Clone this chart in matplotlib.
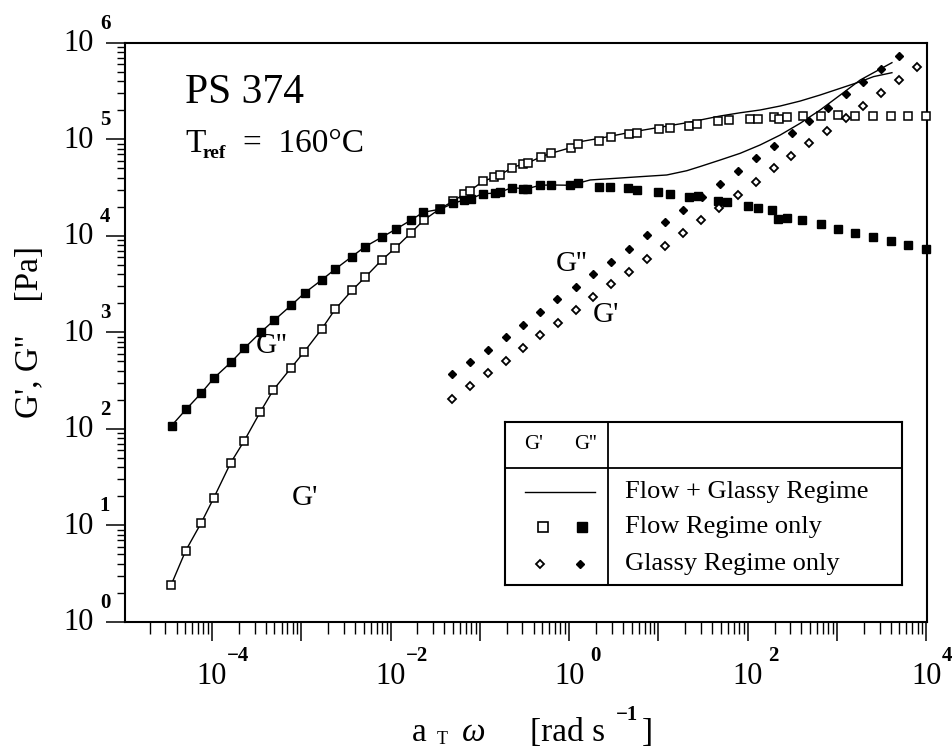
import numpy as np
import matplotlib.pyplot as plt
from matplotlib.ticker import LogLocator, NullFormatter

plt.rcParams['font.family'] = ['Liberation Serif', 'DejaVu Serif']

# Flow regime only (Maxwell modes), PS 374 master curve at 160 C
flow_w = [3.48e-5, 5.07e-5, 7.53e-5, 1.04e-4, 1.62e-4, 2.29e-4, 3.45e-4, 4.86e-4, 7.62e-4, 1.08e-3,
          1.69e-3, 2.39e-3, 3.73e-3, 5.18e-3, 7.96e-3, 1.12e-2, 1.70e-2, 2.34e-2, 3.59e-2, 5.06e-2,
          6.67e-2, 7.78e-2, 0.108, 0.145, 0.169, 0.228, 0.303, 0.350, 0.485, 0.628,
          1.04, 1.27, 2.18, 2.93, 4.66, 5.82, 10.2, 13.6, 22.3, 27.0,
          47.1, 61.0, 107, 129, 195, 227, 275, 415, 661, 1040,
          1600, 2530, 4020, 6330, 1.0e4]
flow_G1 = [2.40, 5.45, 10.5, 19.0, 44.5, 74.8, 148, 253, 424, 630,
           1080, 1730, 2750, 3720, 5620, 7430, 10800, 14500, 19200, 23000,
           27200, 29400, 36800, 40500, 42800, 50900, 55600, 57400, 66200, 71800,
           82200, 89100, 97100, 105000, 114000, 117000, 127000, 132000, 139000, 146000,
           156000, 159000, 163000, 163000, 170000, 163000, 172000, 175000, 175000, 179000,
           175000, 175000, 175000, 175000, 175000]

flow_w2 = [3.53e-5, 5.12e-5, 7.53e-5, 1.05e-4, 1.63e-4, 2.30e-4, 3.54e-4, 4.95e-4, 7.67e-4, 1.10e-3,
           1.69e-3, 2.39e-3, 3.67e-3, 5.18e-3, 7.96e-3, 1.14e-2, 1.70e-2, 2.33e-2, 3.59e-2, 5.06e-2,
           6.71e-2, 7.92e-2, 0.108, 0.146, 0.166, 0.228, 0.308, 0.341, 0.473, 0.628,
           1.03, 1.25, 2.17, 2.88, 4.61, 5.82, 10.0, 13.6, 22.3, 27.7,
           47.1, 58.5, 102, 129, 187, 221, 275, 408, 655, 1020,
           1600, 2530, 4020, 6330, 1.0e4]
flow_G2 = [108, 159, 233, 336, 489, 684, 1010, 1330, 1900, 2580,
           3490, 4510, 6080, 7730, 9680, 11700, 14600, 17600, 18900, 21800,
           23600, 24300, 27400, 27700, 28300, 31600, 30900, 30900, 33500, 33700,
           33500, 35100, 31900, 31900, 31200, 29900, 28700, 27200, 25100, 25700,
           23200, 22600, 20400, 19600, 18600, 15000, 15200, 14500, 13200, 11900,
           10800, 9790, 8920, 8110, 7370]

# Glassy regime only
glass_w1 = [4.92e-2, 7.78e-2, 0.123, 0.195, 0.305, 0.473, 0.746, 1.19, 1.87, 2.96,
            4.70, 7.43, 12.0, 19.1, 29.7, 48.3, 77.6, 124, 198, 307,
            492, 783, 1260, 1980, 3130, 4980, 7870]
glass_G1 = [204, 280, 376, 505, 693, 931, 1260, 1710, 2310, 3150,
            4230, 5720, 7850, 10700, 14600, 19600, 26600, 36500, 50200, 67300,
            91200, 123000, 166000, 224000, 305000, 413000, 560000]

glass_w2 = [4.92e-2, 7.78e-2, 0.123, 0.197, 0.308, 0.473, 0.740, 1.19, 1.87, 2.96,
            4.66, 7.44, 11.9, 19.1, 30.5, 49.2, 77.6, 124, 198, 313,
            492, 792, 1260, 1980, 3130, 4980]
glass_G2 = [367, 489, 656, 889, 1200, 1630, 2220, 2970, 4030, 5410,
            7370, 10200, 13800, 18700, 25300, 34500, 47100, 63800, 85500, 116000,
            156000, 213000, 294000, 397000, 533000, 733000]

# Flow + glassy: coincides with flow curve below ~1 rad/s, then these points
both_w1 = [1.33, 2.22, 5.21, 10.5, 20.8, 29.4, 49.2, 82.4, 138, 231, 387, 649, 1090, 1820, 2570, 4130]
both_G1 = [94800, 103000, 120000, 134000, 149000, 159000, 175000, 189000, 202000, 222000,
           250000, 289000, 339000, 397000, 448000, 492000]
both_w2 = [1.72, 3.42, 6.24, 12.4, 20.8, 29.4, 49.2, 82.4, 138, 231, 387, 649, 1090, 1820, 2570, 4130]
both_G2 = [38000, 39600, 41100, 42800, 47400, 52400, 61200, 71800, 87700, 111000,
           147000, 202000, 289000, 413000, 492000, 625000]

line_w1 = np.concatenate([flow_w[:31], both_w1])
line_G1 = np.concatenate([flow_G1[:31], both_G1])
line_w2 = np.concatenate([flow_w2[:31], both_w2])
line_G2 = np.concatenate([flow_G2[:31], both_G2])

fig = plt.figure(figsize=(9.53, 7.49), dpi=100)
ax = fig.add_axes([0.1312, 0.170, 0.8415, 0.7726])
ax.set_xscale('log')
ax.set_yscale('log')
ax.set_xlim(1.06e-5, 1.02e4)
ax.set_ylim(1, 1e6)

ax.plot(line_w1, line_G1, color='k', lw=1.0, zorder=2)
ax.plot(line_w2, line_G2, color='k', lw=1.0, zorder=2)
ax.plot(flow_w, flow_G1, ls='none', marker='s', ms=5.5, mfc='white', mec='k', mew=1.1, zorder=3, clip_on=False)
ax.plot(flow_w2, flow_G2, ls='none', marker='s', ms=5.2, color='k', zorder=3, clip_on=False)
ax.plot(glass_w1, glass_G1, ls='none', marker='D', ms=3.8, mfc='white', mec='k', mew=1.3, zorder=3)
ax.plot(glass_w2, glass_G2, ls='none', marker='D', ms=3.8, color='k', zorder=3)

# axes frame and ticks
for s in ax.spines.values():
    s.set_linewidth(1.5)
ax.xaxis.set_major_locator(LogLocator(base=10, numticks=20))
ax.xaxis.set_minor_locator(LogLocator(base=10, subs=np.arange(2, 10), numticks=20))
ax.yaxis.set_major_locator(LogLocator(base=10, numticks=20))
ax.yaxis.set_minor_locator(LogLocator(base=10, subs=np.arange(2, 10), numticks=20))
ax.xaxis.set_major_formatter(NullFormatter())
ax.xaxis.set_minor_formatter(NullFormatter())
ax.yaxis.set_major_formatter(NullFormatter())
ax.yaxis.set_minor_formatter(NullFormatter())
ax.tick_params(which='major', direction='out', length=14, width=1.1)
ax.tick_params(axis='x', which='minor', direction='out', length=8.5, width=1.0)
ax.tick_params(axis='y', which='minor', direction='out', length=6, width=1.0)

for e in [-4, -2, 0, 2, 4]:
    ax.annotate('10', xy=(10.0 ** e, 0), xycoords=ax.get_xaxis_transform(), xytext=(0, -55),
                textcoords='offset pixels', ha='center', va='center', fontsize=22, annotation_clip=False)
    dx = 26 if e < 4 else 21
    ax.annotate(str(e).replace('-', '\u2212'), xy=(10.0 ** e, 0), xycoords=ax.get_xaxis_transform(),
                xytext=(dx, -34), textcoords='offset pixels', ha='center', va='center',
                fontsize=15, fontweight='bold', annotation_clip=False)
for e in range(0, 7):
    ax.annotate('10', xy=(0, 10.0 ** e), xycoords=ax.get_yaxis_transform(), xytext=(-46, -1),
                textcoords='offset pixels', ha='center', va='center', fontsize=22, annotation_clip=False)
    ax.annotate(str(e), xy=(0, 10.0 ** e), xycoords=ax.get_yaxis_transform(), xytext=(-20, 19),
                textcoords='offset pixels', ha='center', va='center', fontsize=15, fontweight='bold',
                annotation_clip=False)

# axis titles
fig.text(30 / 953, 1 - 332 / 749, "G', G''    [Pa]", rotation=90, ha='center', va='center', fontsize=24)
yb = (749 - 741) / 749
fig.text(412 / 953, yb, 'a', fontsize=24, va='baseline')
fig.text(437 / 953, (749 - 744) / 749, 'T', fontsize=13, va='baseline')
fig.text(462 / 953, yb, '\u03c9', fontsize=24, va='baseline', style='italic')
fig.text(530 / 953, yb, '[rad s', fontsize=24, va='baseline')
fig.text(616 / 953, (749 - 720) / 749, '\u22121', fontsize=15, va='baseline', fontweight='bold')
fig.text(642 / 953, yb, ']', fontsize=24, va='baseline')

# sample annotation
fig.text(185 / 953, (749 - 103) / 749, 'PS 374', fontsize=30, va='baseline')
fig.text(185 / 953, (749 - 152) / 749, 'T', fontsize=24, va='baseline')
fig.text(203 / 953, (749 - 158) / 749, 'ref', fontsize=14, va='baseline', fontweight='bold')
fig.text(243 / 953, (749 - 152) / 749, '=  160\u00b0C', fontsize=24, va='baseline')

# curve labels
fig.text(272 / 953, 1 - 346 / 749, "G''", fontsize=21, ha='center', va='center')
fig.text(305 / 953, 1 - 498 / 749, "G'", fontsize=21, ha='center', va='center')
fig.text(572 / 953, 1 - 264 / 749, "G''", fontsize=21, ha='center', va='center')
fig.text(606 / 953, 1 - 315 / 749, "G'", fontsize=21, ha='center', va='center')

# legend table
lg = fig.add_axes([505 / 953, 1 - 585 / 749, 397 / 953, 163 / 749])
lg.set_xlim(0, 1)
lg.set_ylim(0, 1)
lg.set_xticks([])
lg.set_yticks([])
for s in lg.spines.values():
    s.set_linewidth(1.5)
lg.axvline(0.2594, color='k', lw=1.3)
lg.axhline(0.718, color='k', lw=1.3)
lg.text(0.073, 0.865, "G'", fontsize=15, ha='center', va='center')
lg.text(0.2015, 0.865, "G''", fontsize=15, ha='center', va='center')
lg.plot([0.050, 0.227], [0.571, 0.571], color='k', lw=1.0)
lg.plot([0.0957], [0.356], marker='s', ms=6.5, mfc='white', mec='k', mew=1.2)
lg.plot([0.194], [0.356], marker='s', ms=7, color='k')
lg.plot([0.088], [0.129], marker='D', ms=4.5, mfc='white', mec='k', mew=1.3)
lg.plot([0.189], [0.129], marker='D', ms=4.5, color='k')
lg.text(0.302, 0.571, 'Flow + Glassy Regime', fontsize=19, va='center')
lg.text(0.302, 0.356, 'Flow Regime only', fontsize=19, va='center')
lg.text(0.302, 0.129, 'Glassy Regime only', fontsize=19, va='center')

fig.savefig('out.png', dpi=100)
